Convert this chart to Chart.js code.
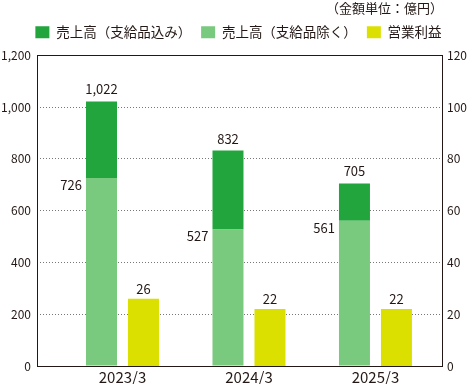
<!DOCTYPE html>
<html><head><meta charset="utf-8">
<script src="https://cdn.jsdelivr.net/npm/chart.js@4"></script>
<style>html,body{margin:0;padding:0;background:#fff}#wrap{width:469px;height:384px}</style>
</head><body><div id="wrap"><canvas id="c" width="469" height="384"></canvas></div>
<script>
const categories = ['2023/3', '2024/3', '2025/3'];
const salesIncl = [1022, 832, 705];   // 売上高（支給品込み）
const salesExcl = [726, 527, 561];    // 売上高（支給品除く）
const opProfit = [26, 22, 22];        // 営業利益
const seriesNames = ['売上高（支給品除く）', '売上高（支給品込み）', '営業利益'];
const unitText = '（金額単位：億円）';
const leftMax = 1200, leftStep = 200;
const rightMax = 120, rightStep = 20;

const FONT = '"Noto Sans CJK JP", "Noto Sans", sans-serif';
const TXT = '#231815';
const fmt = v => v.toLocaleString('en-US');

const frame = {
  id: 'frame',
  afterDatasetsDraw(chart) {
    const a = chart.chartArea, ctx = chart.ctx;
    ctx.save();
    ctx.strokeStyle = TXT; ctx.lineWidth = 1;
    ctx.strokeRect(Math.round(a.left) + 0.5, Math.round(a.top) + 0.5,
      Math.round(a.right - a.left) - 1, Math.round(a.bottom - a.top));
    ctx.restore();
  }
};

const valueLabels = {
  id: 'valueLabels',
  afterDatasetsDraw(chart) {
    const ctx = chart.ctx;
    ctx.save();
    ctx.font = '13px ' + FONT;
    ctx.fillStyle = TXT;
    const mLight = chart.getDatasetMeta(0), mDark = chart.getDatasetMeta(1), mProf = chart.getDatasetMeta(2);
    ctx.textAlign = 'center'; ctx.textBaseline = 'middle';
    mDark.data.forEach((el, i) => ctx.fillText(fmt(salesIncl[i]), el.x, el.y - 12));
    mProf.data.forEach((el, i) => ctx.fillText(fmt(opProfit[i]), el.x, el.y - 10));
    ctx.textAlign = 'right';
    mLight.data.forEach((el, i) => ctx.fillText(fmt(salesExcl[i]), el.x - el.width / 2 - 4, el.y + 7));
    ctx.restore();
  }
};

new Chart(document.getElementById('c'), {
  type: 'bar',
  data: {
    datasets: [
      { label: seriesNames[0], data: salesExcl.map((v, i) => ({ x: i, y: v })), backgroundColor: '#79c97e', stack: 'sales', yAxisID: 'y' },
      { label: seriesNames[1], data: salesIncl.map((v, i) => ({ x: i, y: v - salesExcl[i] })), backgroundColor: '#21a53c', stack: 'sales', yAxisID: 'y' },
      { label: seriesNames[2], data: opProfit.map((v, i) => ({ x: i, y: v })), backgroundColor: '#dce000', stack: 'profit', yAxisID: 'y2' }
    ]
  },
  options: {
    responsive: false,
    devicePixelRatio: 1,
    animation: false,
    categoryPercentage: 0.664,
    barPercentage: 0.738,
    layout: { padding: { top: 0, left: 0, right: -8, bottom: 0 } },
    plugins: {
      tooltip: { enabled: false },
      title: {
        display: true, text: unitText, align: 'end', fullSize: false,
        color: TXT, font: { family: FONT, size: 13, weight: 'normal' },
        padding: { top: 0, bottom: 0 }
      },
      subtitle: {
        display: true, text: '', weight: 500, fullSize: false,
        font: { size: 1 }, padding: { top: 0, bottom: 5 }
      },
      legend: {
        position: 'top', fullSize: true,
        labels: {
          color: TXT, font: { family: FONT, size: 13.5 },
          boxWidth: 14, boxHeight: 12, padding: 10,
          sort: (a, b) => [1, 0, 2].indexOf(a.datasetIndex) - [1, 0, 2].indexOf(b.datasetIndex)
        }
      }
    },
    scales: {
      x: {
        type: 'linear', min: -0.676, max: 2.534, offset: false, bounds: 'data',
        afterBuildTicks: s => { s.ticks = categories.map((c, i) => ({ value: i })); },
        afterFit: s => { s.height = 18; },
        ticks: { callback: v => categories[v], color: TXT, font: { family: FONT, size: 15 }, padding: 2, maxRotation: 0 },
        grid: { display: false, drawTicks: false, offset: false },
        border: { display: false }
      },
      y: {
        position: 'left', stacked: true, min: 0, max: leftMax,
        afterFit: s => { s.width = 37; },
        ticks: { stepSize: leftStep, callback: v => fmt(v), color: TXT, font: { family: FONT, size: 12 }, padding: 6 },
        grid: { drawTicks: false, color: c => (c.tick && (c.tick.value === 0 || c.tick.value === leftMax)) ? 'rgba(0,0,0,0)' : '#777', lineWidth: 1 },
        border: { display: false, dash: [1, 2] }
      },
      y2: {
        position: 'right', stacked: true, min: 0, max: rightMax,
        afterFit: s => { s.width = 34; },
        ticks: { stepSize: rightStep, color: TXT, font: { family: FONT, size: 12 }, padding: 4 },
        grid: { display: false, drawTicks: false },
        border: { display: false }
      }
    }
  },
  plugins: [frame, valueLabels]
});
</script>
</body></html>
